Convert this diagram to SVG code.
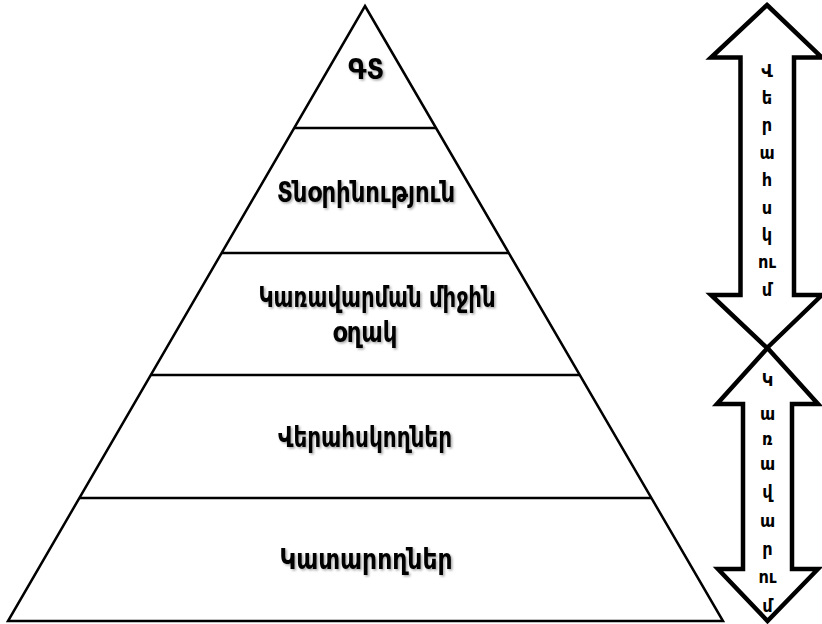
<svg xmlns="http://www.w3.org/2000/svg" width="822" height="624" viewBox="0 0 822 624">
  <defs>
    <filter id="sh" x="-10%" y="-30%" width="120%" height="160%">
      <feDropShadow dx="1.5" dy="1.5" stdDeviation="1" flood-color="#000" flood-opacity="0.35"/>
    </filter>
  </defs>
  <style>
    .tri { fill: #fff; stroke: #000; stroke-width: 2.5; stroke-linejoin: miter; }
    .sep { stroke: #000; stroke-width: 2.5; }
    .arr { fill: #fff; stroke: #000; stroke-width: 4.5; stroke-linejoin: miter; }
    .lbl { font-family: "DejaVu Sans Condensed", "DejaVu Sans", sans-serif; font-weight: bold; font-size: 28px; fill: #000; text-anchor: middle; filter: url(#sh); }
    .ch { font-family: "DejaVu Sans Condensed", "DejaVu Sans", sans-serif; font-weight: bold; font-size: 18px; fill: #000; text-anchor: middle; }
  </style>
  <rect width="822" height="624" fill="#fff"/>

  <g id="pyramid">
    <polygon class="tri" points="365,6 723,621 8,621"/>
  </g>
  <g id="connectors">
    <line class="sep" x1="294.2" y1="128" x2="435.9" y2="128"/>
    <line class="sep" x1="221.6" y1="253" x2="508.6" y2="253"/>
    <line class="sep" x1="150.8" y1="375" x2="579.5" y2="375"/>
    <line class="sep" x1="79.4" y1="498" x2="651" y2="498"/>
  </g>

  <g id="level-1">
    <text class="lbl" x="366" y="79" textLength="36" lengthAdjust="spacingAndGlyphs">ԳՏ</text>
  </g>
  <g id="level-2">
    <text class="lbl" x="366" y="202" textLength="178" lengthAdjust="spacingAndGlyphs">Տնօրինություն</text>
  </g>
  <g id="level-3">
    <text class="lbl" x="377" y="307" textLength="237" lengthAdjust="spacingAndGlyphs">Կառավարման միջին</text>
    <text class="lbl" x="365" y="342" textLength="65" lengthAdjust="spacingAndGlyphs">օղակ</text>
  </g>
  <g id="level-4">
    <text class="lbl" x="365" y="447" textLength="174" lengthAdjust="spacingAndGlyphs">Վերահսկողներ</text>
  </g>
  <g id="level-5">
    <text class="lbl" x="366" y="569" textLength="173" lengthAdjust="spacingAndGlyphs">Կատարողներ</text>
  </g>

  <g id="arrow-up">
    <path class="arr" d="M767,5 L822,57.5 L794,57.5 L794,295 L822,295 L767,348 L711,295 L740.5,295 L740.5,57.5 L711,57.5 Z"/>
    <text class="ch" x="767" y="77">Վ</text>
    <text class="ch" x="767" y="104">ե</text>
    <text class="ch" x="767" y="131">ր</text>
    <text class="ch" x="767" y="159">ա</text>
    <text class="ch" x="767" y="186">հ</text>
    <text class="ch" x="767" y="214">ս</text>
    <text class="ch" x="767" y="241">կ</text>
    <text class="ch" x="767" y="268">ու</text>
    <text class="ch" x="767" y="296">մ</text>
  </g>

  <g id="arrow-down">
    <path class="arr" d="M767.5,348 L818,404 L792,404 L792,569 L818,569 L767.5,621 L718,569 L743,569 L743,404 L717,404 Z"/>
    <text class="ch" x="767.5" y="386">Կ</text>
    <text class="ch" x="767.5" y="420">ա</text>
    <text class="ch" x="767.5" y="445">ռ</text>
    <text class="ch" x="767.5" y="470">ա</text>
    <text class="ch" x="767.5" y="498">վ</text>
    <text class="ch" x="767.5" y="527">ա</text>
    <text class="ch" x="767.5" y="555">ր</text>
    <text class="ch" x="767.5" y="583">ու</text>
    <text class="ch" x="767.5" y="612">մ</text>
  </g>
</svg>
